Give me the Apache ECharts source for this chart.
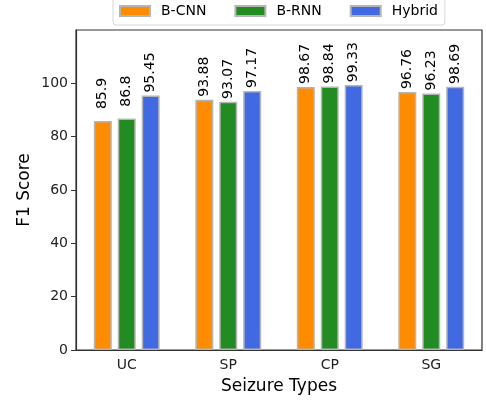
<!DOCTYPE html>
<html><head><meta charset="utf-8">
<script src="https://cdn.jsdelivr.net/npm/echarts@6/dist/echarts.min.js"></script>
<style>html,body{margin:0;padding:0;background:#fff}#c{width:486px;height:402px}</style>
</head><body><div id="c"></div>
<script>
const categories = ['UC', 'SP', 'CP', 'SG'];
const bCNN = [85.9, 93.88, 98.67, 96.76];
const bRNN = [86.8, 93.07, 98.84, 96.23];
const hybrid = [95.45, 97.17, 99.33, 98.69];
const yTicks = [0, 20, 40, 60, 80, 100];

const FONT = 'DejaVu Sans';
const chart = echarts.init(document.getElementById('c'), null, {renderer: 'canvas'});
function mk(name, data, color) {
  return {
    name, type: 'bar', data, barWidth: 18, barGap: '33%',
    itemStyle: {color, borderColor: '#b5b5b5', borderWidth: 1.5},
    label: {show: true, position: 'top', rotate: 90, align: 'right', verticalAlign: 'middle',
      distance: 42, offset: [1, 0], color: '#000', fontFamily: FONT, fontSize: 14},
    emphasis: {disabled: true}
  };
}
chart.setOption({
  animation: false,
  legend: {
    top: -3, left: 113, itemWidth: 30, itemHeight: 10, itemGap: 28,
    padding: [7, 7, 7, 6],
    borderColor: '#d5d5d5', borderWidth: 1, borderRadius: 3,
    textStyle: {fontFamily: FONT, fontSize: 14, color: '#000', padding: [0, 0, 0, 6]},
    icon: 'rect',
    data: ['B-CNN', 'B-RNN', 'Hybrid']
  },
  grid: {left: 76, right: 4, top: 30, bottom: 52, show: true, borderColor: '#333', borderWidth: 1.2, backgroundColor: 'transparent'},
  xAxis: {
    type: 'category', data: categories,
    name: 'Seizure Types', nameLocation: 'middle', nameGap: 28, nameMoveOverlap: false,
    nameTextStyle: {fontFamily: FONT, fontSize: 17, color: '#000'},
    axisLine: {lineStyle: {color: '#333', width: 1.2}},
    axisTick: {alignWithLabel: true, length: 5, lineStyle: {color: '#333'}},
    axisLabel: {fontFamily: FONT, fontSize: 14, color: '#222', margin: 8}
  },
  yAxis: {
    type: 'value', min: 0, max: 120,
    name: 'F1 Score', nameLocation: 'middle', nameGap: 43, nameMoveOverlap: false,
    nameTextStyle: {fontFamily: FONT, fontSize: 17, color: '#000'},
    axisLine: {show: true, lineStyle: {color: '#333', width: 1.2}},
    axisTick: {show: true, length: 5, lineStyle: {color: '#333'}, customValues: yTicks},
    axisLabel: {fontFamily: FONT, fontSize: 14, color: '#222', margin: 8, customValues: yTicks},
    splitLine: {show: false}
  },
  series: [
    mk('B-CNN', bCNN, '#ff8c00'),
    mk('B-RNN', bRNN, '#228b22'),
    mk('Hybrid', hybrid, '#4169e1')
  ]
});
</script></body></html>
